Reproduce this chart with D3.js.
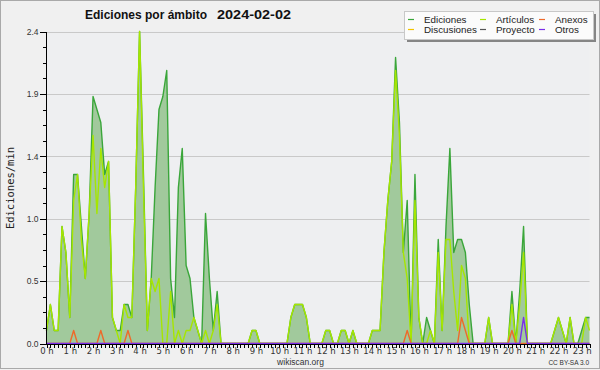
<!DOCTYPE html>
<html>
<head>
<meta charset="utf-8">
<script src="https://cdn.jsdelivr.net/npm/d3@7"></script>
<style>
  body { margin: 0; background: #f0f0f0; }
  svg { display: block; }
</style>
</head>
<body>
<script>
var width = 600;
var height = 370;

// one value every 10 minutes, in edits per minute
var ediciones = [
  0.1,0.3,0.1,0.1,0.9,0.7,0.2,1.3,1.3,0.9,0.5,1.0,
  1.9,1.8,1.7,1.3,1.4,0.2,0.1,0.1,0.3,0.3,0.2,1.2,
  2.4,1.3,0.1,0.5,1.2,1.8,1.9,2.1,0.5,0.2,1.2,1.5,
  0.6,0.5,0.2,0.1,0,1.0,0.5,0.1,0.4,0,0,0,
  0,0,0,0,0,0.1,0.1,0,0,0,0,0,
  0,0,0,0.2,0.3,0.3,0.3,0.2,0,0,0,0,
  0.1,0.1,0,0,0.1,0.1,0,0.1,0,0,0,0,
  0.1,0.1,0.1,0.7,1.1,1.4,2.2,1.7,0.7,1.1,0,1.3,
  0.2,0,0.2,0.1,0,0.8,0.1,0.9,1.5,0.7,0.8,0.8,
  0.7,0.3,0,0,0,0,0.2,0,0,0,0,0,
  0.4,0,0.4,0.9,0,0,0,0,0,0,0,0.1,
  0.2,0.1,0,0.2,0,0,0.1,0.2,0.2
];

var articulos = [
  0.1,0.3,0.1,0.1,0.9,0.7,0.2,1.1,1.3,0.8,0.5,1.0,
  1.6,1.0,1.5,1.2,1.4,0.2,0.1,0,0.3,0.2,0.2,1.2,
  2.4,1.2,0.1,0.5,0.4,0.5,0,0,0.4,0,0.1,0,
  0.1,0.1,0.2,0.1,0,0.1,0,0.1,0.3,0,0,0,
  0,0,0,0,0,0.1,0.1,0,0,0,0,0,
  0,0,0,0.2,0.3,0.3,0.3,0.2,0,0,0,0,
  0.1,0.1,0,0,0.1,0.1,0,0.1,0,0,0,0,
  0.1,0.1,0.1,0.7,1.1,1.4,2.1,1.6,0.7,0.5,0,1.1,
  0.2,0,0,0.1,0,0.7,0.1,0.8,0.8,0.4,0.1,0.6,
  0.5,0,0,0,0,0,0.2,0,0,0,0,0,
  0.3,0,0.3,0.7,0,0,0,0,0,0,0,0.1,
  0.2,0.1,0,0.2,0,0,0,0.2,0.1
];

var anexos = [
  0,0,0,0,0,0,0,0.1,0,0,0,0,
  0,0,0.1,0,0,0,0,0,0,0.1,0,0,
  0,0,0,0,0,0,0,0,0,0,0,0,
  0,0,0,0,0,0,0,0,0,0,0,0,
  0,0,0,0,0,0,0,0,0,0,0,0,
  0,0,0,0,0,0,0,0,0,0,0,0,
  0,0,0,0,0,0,0,0,0,0,0,0,
  0,0,0,0,0,0,0,0,0,0.1,0,0,
  0,0,0,0,0,0,0,0,0,0,0,0.2,
  0.1,0,0,0,0,0,0,0,0,0,0,0,
  0.1,0,0,0,0,0,0,0,0,0,0,0,
  0,0,0,0,0,0,0,0,0
];

var otros = [
  0,0,0,0,0,0,0,0,0,0,0,0,
  0,0,0,0,0,0,0,0,0,0,0,0,
  0,0,0,0,0,0,0,0,0,0,0,0,
  0,0,0,0,0,0,0,0,0,0,0,0,
  0,0,0,0,0,0,0,0,0,0,0,0,
  0,0,0,0,0,0,0,0,0,0,0,0,
  0,0,0,0,0,0,0,0,0,0,0,0,
  0,0,0,0,0,0,0,0,0,0,0,0,
  0,0,0,0,0,0,0,0,0,0,0,0,
  0,0,0,0,0,0,0,0,0,0,0,0,
  0,0,0,0.2,0,0,0,0,0,0,0,0,
  0,0,0,0,0,0,0,0,0
];

var hourLabels = ['0 h','1 h','2 h','3 h','4 h','5 h','6 h','7 h','8 h','9 h','10 h','11 h',
  '12 h','13 h','14 h','15 h','16 h','17 h','18 h','19 h','20 h','21 h','22 h','23 h'];
var yTicks = [0, 0.48, 0.96, 1.44, 1.92, 2.4];

// legend: name, colour (in drawing order of the reference legend)
var legendNames = ['Ediciones', 'Artículos', 'Anexos', 'Discusiones', 'Proyecto', 'Otros'];
var legendColors = ['#3aa63a', '#a6e600', '#ee6a2a', '#f2c400', '#555555', '#7a2ee8'];

var x = d3.scaleLinear()
    .domain([0, ediciones.length - 1])
    .range([46.5, 589.5]);

var y = d3.scaleLinear()
    .domain([0, 2.4])
    .range([343.5, 31.5]);

var svg = d3.select('body')
  .append('svg')
    .attr('width', width)
    .attr('height', height);

// page background and border
svg.append('rect')
    .attr('x', 0.5).attr('y', 0.5)
    .attr('width', width - 1).attr('height', height - 2)
    .attr('fill', '#f0f0f0')
    .attr('stroke', '#a9a9a9');

svg.append('rect')
    .attr('x', 46.5).attr('y', 31)
    .attr('width', 543).attr('height', 312)
    .attr('fill', '#eeeff1');

// grid
svg.append('g')
  .selectAll('line')
  .data(yTicks.slice(1))
  .join('line')
    .attr('x1', x.range()[0]).attr('x2', x.range()[1])
    .attr('y1', d => Math.round(y(d)) + 0.5)
    .attr('y2', d => Math.round(y(d)) + 0.5)
    .attr('stroke', '#c9c9c9');

// filled total
var area = d3.area()
    .x((d, i) => x(i))
    .y0(y(0))
    .y1(d => y(d));

svg.append('path')
    .datum(ediciones)
    .attr('d', area)
    .attr('fill', '#a1c99c');

var line = d3.line()
    .x((d, i) => x(i))
    .y(d => y(d));

var series = [
  {values: ediciones, color: legendColors[0]},
  {values: articulos, color: legendColors[1]},
  {values: anexos, color: legendColors[2]},
  {values: otros, color: legendColors[5]}
];

svg.append('g')
  .selectAll('path')
  .data(series)
  .join('path')
    .attr('d', d => line(d.values))
    .attr('fill', 'none')
    .attr('stroke', d => d.color)
    .attr('stroke-width', 1.4)
    .attr('stroke-linejoin', 'round');

// y axis: minor ticks, then labelled ticks
var yMinor = d3.axisLeft(y)
    .tickValues(d3.range(21).map(k => k * 0.12))
    .tickSize(4)
    .tickFormat('');

var yAxis = d3.axisLeft(y)
    .tickValues(yTicks)
    .tickSize(7)
    .tickPadding(1)
    .tickFormat(d3.format('.1f'));

svg.append('g')
    .attr('transform', 'translate(46.5,0)')
    .call(yMinor)
    .call(g => g.select('.domain').remove());

svg.append('g')
    .attr('class', 'y axis')
    .attr('transform', 'translate(46.5,0)')
    .call(yAxis)
    .call(g => g.select('.domain').attr('d', 'M0,' + y(2.4) + 'V' + (y(0) + 0.5)));

// x axis: one tick per sample, labels every hour
var xMinor = d3.axisBottom(x)
    .tickValues(d3.range(ediciones.length))
    .tickSize(4)
    .tickSizeOuter(0)
    .tickFormat('');

var xAxis = d3.axisBottom(x)
    .tickValues(d3.range(24).map(h => h * 6))
    .tickSize(0)
    .tickPadding(4)
    .tickFormat((d, i) => hourLabels[i]);

svg.append('g')
    .attr('transform', 'translate(0,343.5)')
    .call(xMinor);

svg.append('g')
    .attr('class', 'x axis')
    .attr('transform', 'translate(0,343.5)')
    .call(xAxis)
    .call(g => g.select('.domain').remove());

svg.selectAll('.tick line, .domain')
    .attr('stroke', '#000')
    .attr('shape-rendering', 'crispEdges');

svg.selectAll('.y.axis text')
    .attr('font-family', 'Liberation Sans, Arial, sans-serif')
    .attr('font-size', 8.5)
    .attr('fill', '#333');

svg.selectAll('.x.axis text')
    .attr('font-family', 'DejaVu Sans, sans-serif')
    .attr('font-size', 8.5)
    .attr('fill', '#333');

// axis title
svg.append('text')
    .attr('transform', 'translate(14,188) rotate(-90)')
    .attr('text-anchor', 'middle')
    .attr('font-family', 'DejaVu Sans Mono, monospace')
    .attr('font-size', 10.5)
    .attr('fill', '#222')
    .text('Ediciones/min');

// chart title
svg.append('text')
    .attr('x', 85).attr('y', 19)
    .attr('font-family', 'Liberation Sans, Arial, sans-serif')
    .attr('font-weight', 'bold')
    .attr('font-size', 13)
    .attr('textLength', 122)
    .attr('lengthAdjust', 'spacingAndGlyphs')
    .attr('fill', '#111')
    .text('Ediciones por ámbito');

svg.append('text')
    .attr('x', 217).attr('y', 19)
    .attr('font-family', 'Liberation Sans, Arial, sans-serif')
    .attr('font-weight', 'bold')
    .attr('font-size', 13)
    .attr('textLength', 74)
    .attr('lengthAdjust', 'spacingAndGlyphs')
    .attr('fill', '#111')
    .text('2024-02-02');

// legend box with shadow
svg.append('rect')
    .attr('x', 407).attr('y', 14)
    .attr('width', 189).attr('height', 28)
    .attr('fill', '#858585');

svg.append('rect')
    .attr('x', 404.5).attr('y', 11.5)
    .attr('width', 189).attr('height', 28)
    .attr('fill', '#fbfbfb')
    .attr('stroke', '#c8c8c8');

var legendCols = [408, 480, 539];
var legendRows = [19, 29];

var legend = svg.append('g')
  .selectAll('g')
  .data(legendNames)
  .join('g')
    .attr('transform', (d, i) => 'translate(' + legendCols[i % 3] + ',' + legendRows[Math.floor(i / 3)] + ')');

legend.append('line')
    .attr('x1', 0).attr('x2', 6)
    .attr('y1', 0.5).attr('y2', 0.5)
    .attr('stroke', (d, i) => legendColors[i])
    .attr('stroke-width', 1.2);

legend.append('text')
    .attr('x', 16).attr('y', 3.5)
    .attr('font-family', 'Liberation Sans, Arial, sans-serif')
    .attr('font-size', 9.8)
    .attr('fill', '#222')
    .text(d => d);

// footer
svg.append('text')
    .attr('x', 300.5).attr('y', 364.5)
    .attr('text-anchor', 'middle')
    .attr('font-family', 'Liberation Sans, Arial, sans-serif')
    .attr('font-size', 8.5)
    .attr('fill', '#333')
    .text('wikiscan.org');

svg.append('text')
    .attr('x', 589).attr('y', 365)
    .attr('text-anchor', 'end')
    .attr('font-family', 'Liberation Sans, Arial, sans-serif')
    .attr('font-size', 6.5)
    .attr('fill', '#333')
    .text('CC BY-SA 3.0');
</script>
</body>
</html>
